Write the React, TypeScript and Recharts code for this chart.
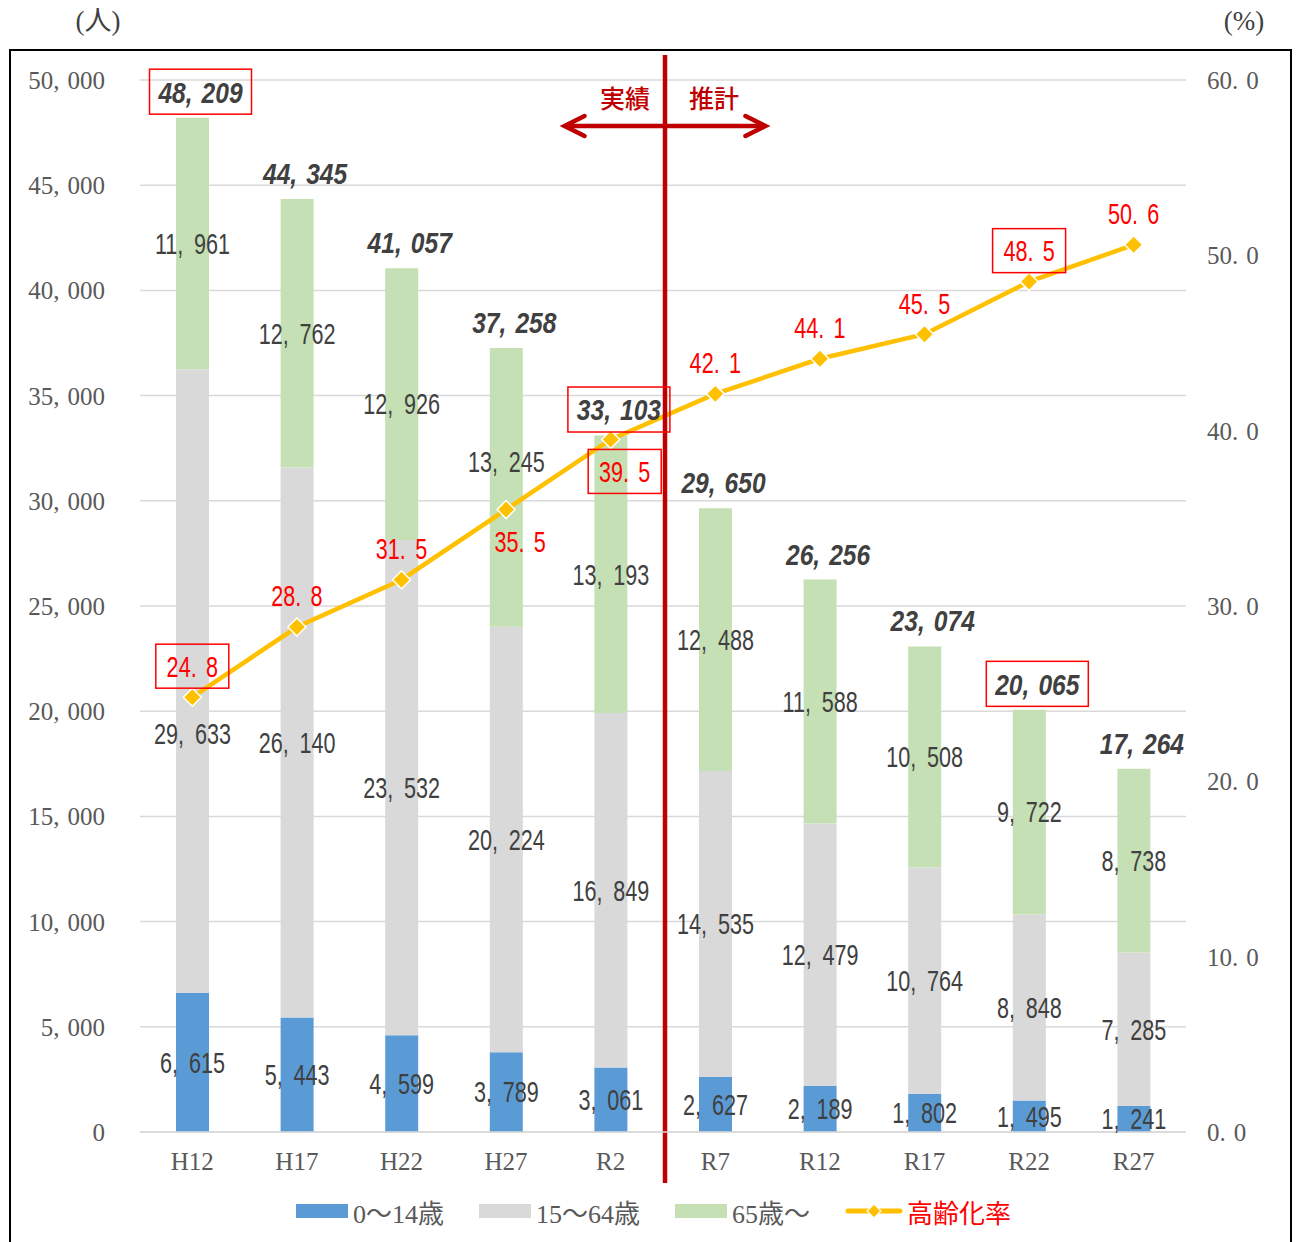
import React from 'react';
import {
  ComposedChart,
  Bar,
  Line,
  XAxis,
  YAxis,
  CartesianGrid,
  Legend,
  LabelList,
  ReferenceLine,
} from 'recharts';

// Survey / projection years
const YEARS = ['H12', 'H17', 'H22', 'H27', 'R2', 'R7', 'R12', 'R17', 'R22', 'R27'];
// Population by age group (people)
const AGE_0_14 = [6615, 5443, 4599, 3789, 3061, 2627, 2189, 1802, 1495, 1241];
const AGE_15_64 = [29633, 26140, 23532, 20224, 16849, 14535, 12479, 10764, 8848, 7285];
const AGE_65_UP = [11961, 12762, 12926, 13245, 13193, 12488, 11588, 10508, 9722, 8738];
const TOTALS = [48209, 44345, 41057, 37258, 33103, 29650, 26256, 23074, 20065, 17264];
// Share of population aged 65+ (%)
const AGING_RATE = [24.8, 28.8, 31.5, 35.5, 39.5, 42.1, 44.1, 45.5, 48.5, 50.6];

const LEFT_TICKS = [0, 5000, 10000, 15000, 20000, 25000, 30000, 35000, 40000, 45000, 50000];
const RIGHT_TICKS = [0, 10, 20, 30, 40, 50, 60];

// Last actual year and first projected year: the divider sits between them
const LAST_ACTUAL = 'R2';
const FIRST_PROJECTED = 'R7';

// Years whose total and rate labels are framed
const BOXED_YEARS = ['H12', 'R2', 'R22'];
// Years whose rate label sits under the marker
const RATE_LABEL_BELOW = ['H27', 'R2'];
// Vertical nudges for a few segment labels that would collide otherwise
const SEGMENT_LABEL_SHIFT: Record<string, number> = {
  'working:H12': 53,
  'elderly:H27': -26,
};

const data = YEARS.map((year, i) => ({
  year,
  young: AGE_0_14[i],
  working: AGE_15_64[i],
  elderly: AGE_65_UP[i],
  total: TOTALS[i],
  rate: AGING_RATE[i],
}));

const W = 1297;
const H = 1242;

const SERIF = '"Liberation Serif", "DejaVu Serif", "Noto Sans CJK JP", serif';
const SANS = '"Liberation Sans", Arial, "Noto Sans CJK JP", sans-serif';
const CJK = '"Noto Sans CJK JP", "Noto Sans", sans-serif';

const C_YOUNG = '#5B9BD5';
const C_WORKING = '#D9D9D9';
const C_ELDERLY = '#C5E0B4';
const C_RATE = '#FFC000';
const C_DIVIDER = '#C00000';
const C_LABEL = '#404040';
const C_AXIS = '#595959';
const C_RED = '#FF0000';

const fmtInt = (v: number) => v.toLocaleString('en-US');
const fmtRate = (v: number) => v.toFixed(1);

// Splits "12,345" / "50.0" after each separator so a gap can follow it
function splitNum(s: string): string[] {
  const parts: string[] = [];
  let cur = '';
  for (const ch of s) {
    cur += ch;
    if (ch === ',' || ch === '.') {
      parts.push(cur);
      cur = '';
    }
  }
  if (cur) parts.push(cur);
  return parts;
}

type NumTextProps = {
  x: number;
  y: number;
  text: string;
  anchor?: 'start' | 'middle' | 'end';
  gap: number;
  fontFamily: string;
  fontSize: number;
  fill: string;
  fontWeight?: string | number;
  fontStyle?: string;
  squeeze?: number;
};

const NumText = ({
  x,
  y,
  text,
  anchor = 'middle',
  gap,
  fontFamily,
  fontSize,
  fill,
  fontWeight,
  fontStyle,
  squeeze = 1,
}: NumTextProps) => (
  <text
    transform={`translate(${x} ${y}) scale(${squeeze} 1)`}
    x={0}
    y={0}
    textAnchor={anchor}
    dominantBaseline="central"
    fontFamily={fontFamily}
    fontSize={fontSize}
    fill={fill}
    fontWeight={fontWeight}
    fontStyle={fontStyle}
  >
    {splitNum(text).map((p, i) => (
      <tspan key={i} dx={i > 0 ? gap : undefined}>
        {p}
      </tspan>
    ))}
  </text>
);

function readBox(p: any) {
  const vb = p.viewBox || {};
  return {
    x: vb.x ?? p.x ?? 0,
    y: vb.y ?? p.y ?? 0,
    width: vb.width ?? p.width ?? 0,
    height: vb.height ?? p.height ?? 0,
  };
}

const makeSegmentLabel = (key: string, values: number[]) => (p: any) => {
  const { x, y, width, height } = readBox(p);
  const idx = values.indexOf(Number(p.value));
  const year = YEARS[idx];
  const shift = SEGMENT_LABEL_SHIFT[`${key}:${year}`] || 0;
  return (
    <NumText
      x={x + width / 2}
      y={y + height / 2 + shift}
      text={fmtInt(Number(p.value))}
      gap={15}
      fontFamily={SANS}
      fontSize={30}
      fill={C_LABEL}
      squeeze={0.72}
    />
  );
};

const TotalLabel = (p: any) => {
  const { x, y, width } = readBox(p);
  const idx = TOTALS.indexOf(Number(p.value));
  const boxed = BOXED_YEARS.includes(YEARS[idx]);
  const cx = x + width / 2 + 8;
  const cy = y - 26;
  return (
    <g>
      {boxed && (
        <rect x={cx - 51} y={cy - 22.5} width={102} height={45} fill="none" stroke={C_RED} strokeWidth={1.5} />
      )}
      <NumText
        x={cx}
        y={cy}
        text={fmtInt(Number(p.value))}
        gap={11}
        fontFamily={SANS}
        fontSize={30}
        fill={C_LABEL}
        fontWeight="bold"
        fontStyle="italic"
        squeeze={0.82}
      />
    </g>
  );
};

const RateLabel = (p: any) => {
  const { x, y } = readBox(p);
  const idx = AGING_RATE.indexOf(Number(p.value));
  const year = YEARS[idx];
  const below = RATE_LABEL_BELOW.includes(year);
  const boxed = BOXED_YEARS.includes(year);
  const cx = x + (below ? 14 : 0);
  const cy = below ? y + 32 : y - 31;
  return (
    <g>
      {boxed && (
        <rect x={cx - 36.5} y={cy - 22} width={73} height={44} fill="none" stroke={C_RED} strokeWidth={1.5} />
      )}
      <NumText
        x={cx}
        y={cy}
        text={fmtRate(Number(p.value))}
        gap={13}
        fontFamily={SANS}
        fontSize={30}
        fill={C_RED}
        squeeze={0.72}
      />
    </g>
  );
};

const Diamond = (p: any) => {
  const { cx, cy } = p;
  if (cx == null || cy == null) return null;
  const r = 9;
  return (
    <path
      d={`M${cx},${cy - r} L${cx + r},${cy} L${cx},${cy + r} L${cx - r},${cy} Z`}
      fill={C_RATE}
      stroke="#FFFFFF"
      strokeWidth={1.5}
    />
  );
};

const LeftTick = (p: any) => (
  <NumText
    x={p.x}
    y={p.y}
    anchor="end"
    text={fmtInt(p.payload.value)}
    gap={8}
    fontFamily={SERIF}
    fontSize={25}
    fill={C_AXIS}
  />
);

const RightTick = (p: any) => (
  <NumText
    x={p.x}
    y={p.y}
    anchor="start"
    text={fmtRate(p.payload.value)}
    gap={8}
    fontFamily={SERIF}
    fontSize={25}
    fill={C_AXIS}
  />
);

const CategoryTick = (p: any) => (
  <text x={p.x} y={p.y} dy="0.71em" textAnchor="middle" fontFamily={SERIF} fontSize={25} fill={C_AXIS}>
    {p.payload.value}
  </text>
);

// Divider between actual and projected years: drawn halfway between the two year centres
const DividerShape = (p: any) => {
  const { x1, y1, x2, y2 } = p;
  if (x1 == null || x2 == null) return null;
  const mid = (x1 + x2) / 2 + 2;
  return <line x1={mid} y1={y1} x2={mid} y2={y2} stroke={C_DIVIDER} strokeWidth={4.5} />;
};

// Double-headed arrow with the "actual / projected" captions
const ArrowShape = (p: any) => {
  const { x1, y1, x2 } = p;
  if (x1 == null || y1 == null || x2 == null) return null;
  const mid = (x1 + x2) / 2 + 2;
  const half = (x2 - x1) * 0.97;
  const left = mid - half;
  const right = mid + half;
  const sw = 4.5;
  return (
    <g>
      <line x1={left + 2} y1={y1} x2={right - 2} y2={y1} stroke={C_DIVIDER} strokeWidth={sw} />
      <polyline
        points={`${left + 21},${y1 - 10} ${left + 1},${y1} ${left + 21},${y1 + 10}`}
        fill="none"
        stroke={C_DIVIDER}
        strokeWidth={sw}
        strokeLinecap="round"
      />
      <polyline
        points={`${right - 21},${y1 - 10} ${right - 1},${y1} ${right - 21},${y1 + 10}`}
        fill="none"
        stroke={C_DIVIDER}
        strokeWidth={sw}
        strokeLinecap="round"
      />
      <text x={mid - 15} y={y1 - 18} textAnchor="end" fontFamily={CJK} fontSize={25} fontWeight={500} fill={C_DIVIDER}>
        実績
      </text>
      <text x={mid + 24} y={y1 - 18} textAnchor="start" fontFamily={CJK} fontSize={25} fontWeight={500} fill={C_DIVIDER}>
        推計
      </text>
    </g>
  );
};

const LEGEND_ITEMS = [
  { label: '0～14歳', color: C_YOUNG, kind: 'bar' },
  { label: '15～64歳', color: C_WORKING, kind: 'bar' },
  { label: '65歳～', color: C_ELDERLY, kind: 'bar' },
  { label: '高齢化率', color: C_RATE, kind: 'line' },
];

const LegendContent = () => (
  <div
    style={{
      display: 'flex',
      justifyContent: 'center',
      alignItems: 'center',
      height: 38,
      paddingBottom: 12,
      paddingLeft: 10,
      fontFamily: SERIF,
      fontSize: 26,
      color: C_AXIS,
    }}
  >
    {LEGEND_ITEMS.map((it, i) => (
      <div key={it.label} style={{ display: 'flex', alignItems: 'center', marginLeft: i ? 35 : 0 }}>
        {it.kind === 'bar' ? (
          <svg width={52} height={14} style={{ marginRight: 5 }}>
            <rect x={0} y={0} width={52} height={14} fill={it.color} />
          </svg>
        ) : (
          <svg width={58} height={20} style={{ marginRight: 4 }}>
            <line x1={3} y1={10} x2={55} y2={10} stroke={it.color} strokeWidth={5} strokeLinecap="round" />
            <path d="M29,3 L36,10 L29,17 L22,10 Z" fill={it.color} stroke="#FFFFFF" strokeWidth={1.2} />
          </svg>
        )}
        <span style={{ color: it.kind === 'line' ? C_RED : C_AXIS, whiteSpace: 'nowrap' }}>{it.label}</span>
      </div>
    ))}
  </div>
);

export default function App() {
  return (
    <div style={{ position: 'absolute', left: 0, top: 0, width: W, height: H, background: '#FFFFFF', overflow: 'hidden' }}>
      <div
        style={{
          position: 'absolute',
          left: 9,
          top: 49,
          width: 1279,
          height: 1220,
          border: '2px solid #000000',
        }}
      />
      <div
        style={{
          position: 'absolute',
          left: 48,
          top: 5,
          width: 100,
          textAlign: 'center',
          fontFamily: SERIF,
          fontSize: 27,
          lineHeight: '32px',
          color: C_LABEL,
        }}
      >
        (人)
      </div>
      <div
        style={{
          position: 'absolute',
          left: 1194,
          top: 5,
          width: 100,
          textAlign: 'center',
          fontFamily: SERIF,
          fontSize: 27,
          lineHeight: '32px',
          color: C_LABEL,
        }}
      >
        (%)
      </div>
      <div style={{ position: 'absolute', left: 0, top: 0 }}>
        <ComposedChart width={W} height={H} data={data} margin={{ top: 80, right: 0, bottom: 0, left: 0 }}>
          <CartesianGrid yAxisId="left" vertical={false} stroke="#D9D9D9" strokeWidth={1.5} />
          <XAxis
            xAxisId="cat"
            dataKey="year"
            height={60}
            tickLine={false}
            tickSize={0}
            tickMargin={20}
            axisLine={{ stroke: '#D9D9D9', strokeWidth: 1.5 }}
            tick={<CategoryTick />}
            interval={0}
          />
          <YAxis
            yAxisId="left"
            orientation="left"
            width={140}
            domain={[0, 50000]}
            ticks={LEFT_TICKS}
            allowDataOverflow
            axisLine={false}
            tickLine={false}
            tickSize={0}
            tickMargin={35}
            tick={<LeftTick />}
            interval={0}
          />
          <YAxis
            yAxisId="right"
            orientation="right"
            width={111}
            domain={[0, 60]}
            ticks={RIGHT_TICKS}
            allowDataOverflow
            axisLine={false}
            tickLine={false}
            tickSize={0}
            tickMargin={21}
            tick={<RightTick />}
            interval={0}
          />
          <Legend
            verticalAlign="bottom"
            height={50}
            content={<LegendContent />}
            wrapperStyle={{ left: 0, bottom: 0, width: W, height: 50 }}
          />
          <Bar xAxisId="cat" yAxisId="left" dataKey="young" name="0～14歳" stackId="pop" fill={C_YOUNG} barSize={33} isAnimationActive={false}>
            <LabelList dataKey="young" content={makeSegmentLabel('young', AGE_0_14)} />
          </Bar>
          <Bar xAxisId="cat" yAxisId="left" dataKey="working" name="15～64歳" stackId="pop" fill={C_WORKING} barSize={33} isAnimationActive={false}>
            <LabelList dataKey="working" content={makeSegmentLabel('working', AGE_15_64)} />
          </Bar>
          <Bar xAxisId="cat" yAxisId="left" dataKey="elderly" name="65歳～" stackId="pop" fill={C_ELDERLY} barSize={33} isAnimationActive={false}>
            <LabelList dataKey="elderly" content={makeSegmentLabel('elderly', AGE_65_UP)} />
            <LabelList dataKey="total" content={TotalLabel} />
          </Bar>
          <Line
            xAxisId="cat"
            yAxisId="right"
            dataKey="rate"
            name="高齢化率"
            stroke={C_RATE}
            strokeWidth={4.5}
            dot={<Diamond />}
            activeDot={false}
            isAnimationActive={false}
          >
            <LabelList dataKey="rate" content={RateLabel} />
          </Line>
          <ReferenceLine
            xAxisId="cat"
            yAxisId="left"
            segment={[
              { x: LAST_ACTUAL, y: 51190 },
              { x: FIRST_PROJECTED, y: -2425 },
            ]}
            stroke={C_DIVIDER}
            ifOverflow="visible"
            shape={DividerShape}
          />
          <ReferenceLine
            xAxisId="cat"
            yAxisId="left"
            segment={[
              { x: LAST_ACTUAL, y: 47814 },
              { x: FIRST_PROJECTED, y: 47814 },
            ]}
            stroke={C_DIVIDER}
            ifOverflow="visible"
            shape={ArrowShape}
          />
        </ComposedChart>
      </div>
    </div>
  );
}
